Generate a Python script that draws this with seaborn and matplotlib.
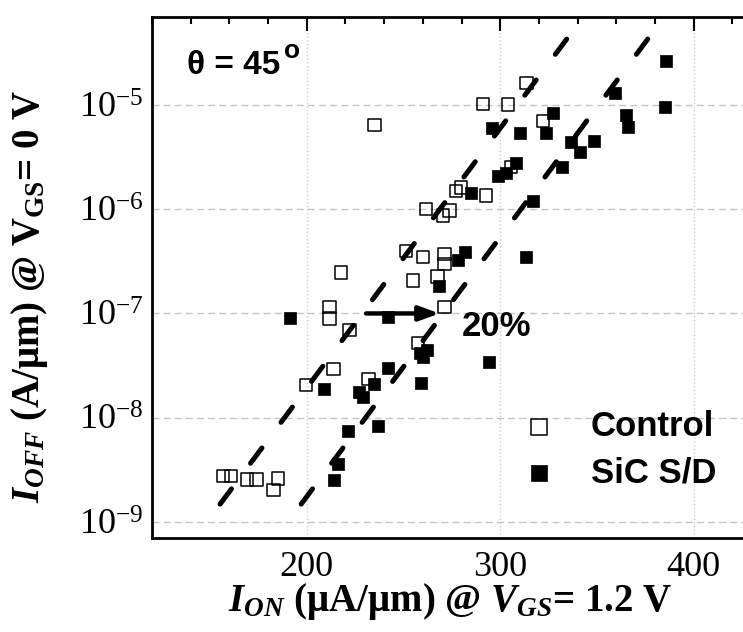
# I_OFF vs I_ON scatter, Control vs SiC S/D, with 20% shift guide lines
import numpy as np
import pandas as pd
import matplotlib
matplotlib.use("Agg")
import matplotlib.pyplot as plt
import matplotlib.ticker as mticker
import seaborn as sns

# ---- data ----
ctrl_ion = [156.6, 160.9, 169.0, 174.1, 182.8, 185.0, 199.7, 211.7, 211.7, 213.8,
            217.8, 222.1, 231.9, 235.0, 251.4, 254.8, 257.4, 260.0, 261.7, 267.7,
            270.3, 271.2, 271.2, 271.2, 273.8, 277.2, 279.8, 291.0, 292.8, 303.9,
            305.7, 313.5, 322.0]
ctrl_ioff = [2.75e-9, 2.75e-9, 2.56e-9, 2.56e-9, 2.02e-9, 2.6e-9, 2.07e-8, 1.16e-7, 8.96e-8, 2.92e-8,
             2.47e-7, 6.9e-8, 2.34e-8, 6.43e-6, 4.0e-7, 2.08e-7, 5.2e-8, 3.5e-7, 1.0e-6, 2.27e-7,
             8.7e-7, 3.74e-7, 3.0e-7, 1.16e-7, 9.7e-7, 1.5e-6, 1.62e-6, 1.03e-5, 1.35e-6, 1.01e-5,
             2.55e-6, 1.63e-5, 7.0e-6]

sic_ion = [191.1, 208.8, 214.0, 216.0, 221.2, 227.2, 228.9, 235.0, 236.7, 241.9,
           241.9, 258.3, 262.0, 260.0, 259.2, 268.6, 278.1, 281.9, 285.0, 294.1,
           295.7, 298.8, 303.1, 308.3, 310.4, 313.1, 316.9, 323.6, 327.2, 331.9,
           336.6, 341.3, 348.6, 359.1, 365.1, 366.0, 385.0, 385.8]
sic_ioff = [8.96e-8, 1.88e-8, 2.52e-9, 3.63e-9, 7.5e-9, 1.78e-8, 1.58e-8, 2.1e-8, 8.4e-9, 3.02e-8,
            9.3e-8, 4.15e-8, 4.46e-8, 3.8e-8, 2.14e-8, 1.82e-7, 3.23e-7, 3.87e-7, 1.42e-6, 3.45e-8,
            5.97e-6, 2.1e-6, 2.22e-6, 2.8e-6, 5.42e-6, 3.47e-7, 1.21e-6, 5.42e-6, 8.4e-6, 2.55e-6,
            4.42e-6, 3.55e-6, 4.52e-6, 1.3e-5, 8.1e-6, 6.15e-6, 9.6e-6, 2.63e-5]

# guide lines (same slope, shifted ~20% in I_ON)
guide_ioff = [1.48e-9, 4.77e-5]
guide_ion_ctrl = [155.2, 336.2]
guide_ion_sic = [197.1, 378.1]

# arrow showing the shift
arrow_ion = [230.7, 268.6]
arrow_ioff = 1e-7

x_ticks = [200, 300, 400]
y_ticks = [1e-9, 1e-8, 1e-7, 1e-6, 1e-5]

df_ctrl = pd.DataFrame({"Ion": ctrl_ion, "Ioff": ctrl_ioff})
df_sic = pd.DataFrame({"Ion": sic_ion, "Ioff": sic_ioff})

# ---- style ----
sns.set_style("white")
plt.rcParams["font.family"] = ["Liberation Serif", "DejaVu Serif"]
plt.rcParams["text.color"] = "black"
plt.rcParams["axes.labelcolor"] = "black"
plt.rcParams["xtick.color"] = "black"
plt.rcParams["ytick.color"] = "black"
plt.rcParams["mathtext.fontset"] = "custom"
plt.rcParams["mathtext.rm"] = "Liberation Serif"
plt.rcParams["mathtext.it"] = "Liberation Serif:italic"
plt.rcParams["mathtext.bf"] = "Liberation Serif:bold"
plt.rcParams["mathtext.bfit"] = "Liberation Serif:italic:bold"

fig = plt.figure(figsize=(7.43, 6.32), dpi=100)
ax = fig.add_axes([152 / 743, 94 / 632, 619 / 743, 521 / 632])

# scatter points
sns.scatterplot(data=df_ctrl, x="Ion", y="Ioff", marker="s", s=80,
                color="none", edgecolor="black", linewidth=1.1,
                label="Control", ax=ax, zorder=3)
sns.scatterplot(data=df_sic, x="Ion", y="Ioff", marker="s", s=85,
                color="black", edgecolor="black", linewidth=0.5,
                label="SiC S/D", ax=ax, zorder=4)

# dashed guide lines
for gx in (guide_ion_ctrl, guide_ion_sic):
    ax.plot(gx, guide_ioff, color="black", lw=3.6, dashes=(3.8, 6.4),
            dash_capstyle="round", zorder=5)

ax.annotate("", xy=(arrow_ion[1], arrow_ioff), xytext=(arrow_ion[0], arrow_ioff),
            arrowprops=dict(arrowstyle="-|>,head_length=0.6,head_width=0.22",
                            lw=3.2, color="black", mutation_scale=20,
                            shrinkA=0, shrinkB=0), zorder=6)

ax.set_yscale("log")
ax.set_xlim(120, 440)
ax.set_ylim(7e-10, 7e-5)
ax.set_xticks(x_ticks)
ax.xaxis.set_minor_locator(mticker.MultipleLocator(20))
ax.set_yticks(y_ticks)
ax.yaxis.set_minor_locator(mticker.LogLocator(base=10, subs=np.arange(2, 10)))
ax.yaxis.set_minor_formatter(mticker.NullFormatter())

ax.tick_params(which="both", direction="in", top=True, right=True,
               labelsize=26, width=1.5, colors="black")
ax.tick_params(which="major", length=10)
ax.tick_params(which="minor", length=5)
ax.tick_params(axis="x", which="major", pad=9)
ax.tick_params(axis="y", which="major", pad=6)
for sp in ax.spines.values():
    sp.set_linewidth(2)
    sp.set_color("black")

ax.set_axisbelow(True)
ax.grid(which="major", axis="y", color="#c4c4c4", lw=1.0, ls=(0, (5, 3)))
ax.grid(which="major", axis="x", color="#cccccc", lw=1.0, ls=":")

ax.set_xlabel(r"$\mathbfit{I}_{\mathbfit{ON}}$ (μA/μm) @ $\mathbfit{V}_{\mathbfit{GS}}$= 1.2 V",
              fontsize=28, fontweight="bold")
ax.set_ylabel(r"$\mathbfit{I}_{\mathbfit{OFF}}$ (A/μm) @ $\mathbf{V}_{\mathbf{GS}}$= 0 V",
              fontsize=28, fontweight="bold")
ax.xaxis.set_label_coords(0.482, -0.082)
ax.yaxis.set_label_coords(-0.165, 0.4645)

# annotations
ax.text(0.056, 0.89, "θ = 45", transform=ax.transAxes, fontsize=24,
        fontweight="bold", family="Liberation Sans", va="baseline")
ax.text(0.213, 0.958, "o", transform=ax.transAxes, fontsize=19,
        fontweight="bold", family="Liberation Sans", va="top")
ax.text(0.5, 0.387, "20%", transform=ax.transAxes, fontsize=25,
        fontweight="bold", family="Liberation Sans", va="baseline")

ax.legend(loc="upper left", bbox_to_anchor=(0.597, 0.245), frameon=False,
          prop=dict(family="Liberation Sans", weight="bold", size=25),
          markerscale=1.25, handlelength=1.0, handletextpad=1.0,
          labelspacing=0.37, borderpad=0, borderaxespad=0)

fig.savefig("out.png", dpi=100)
